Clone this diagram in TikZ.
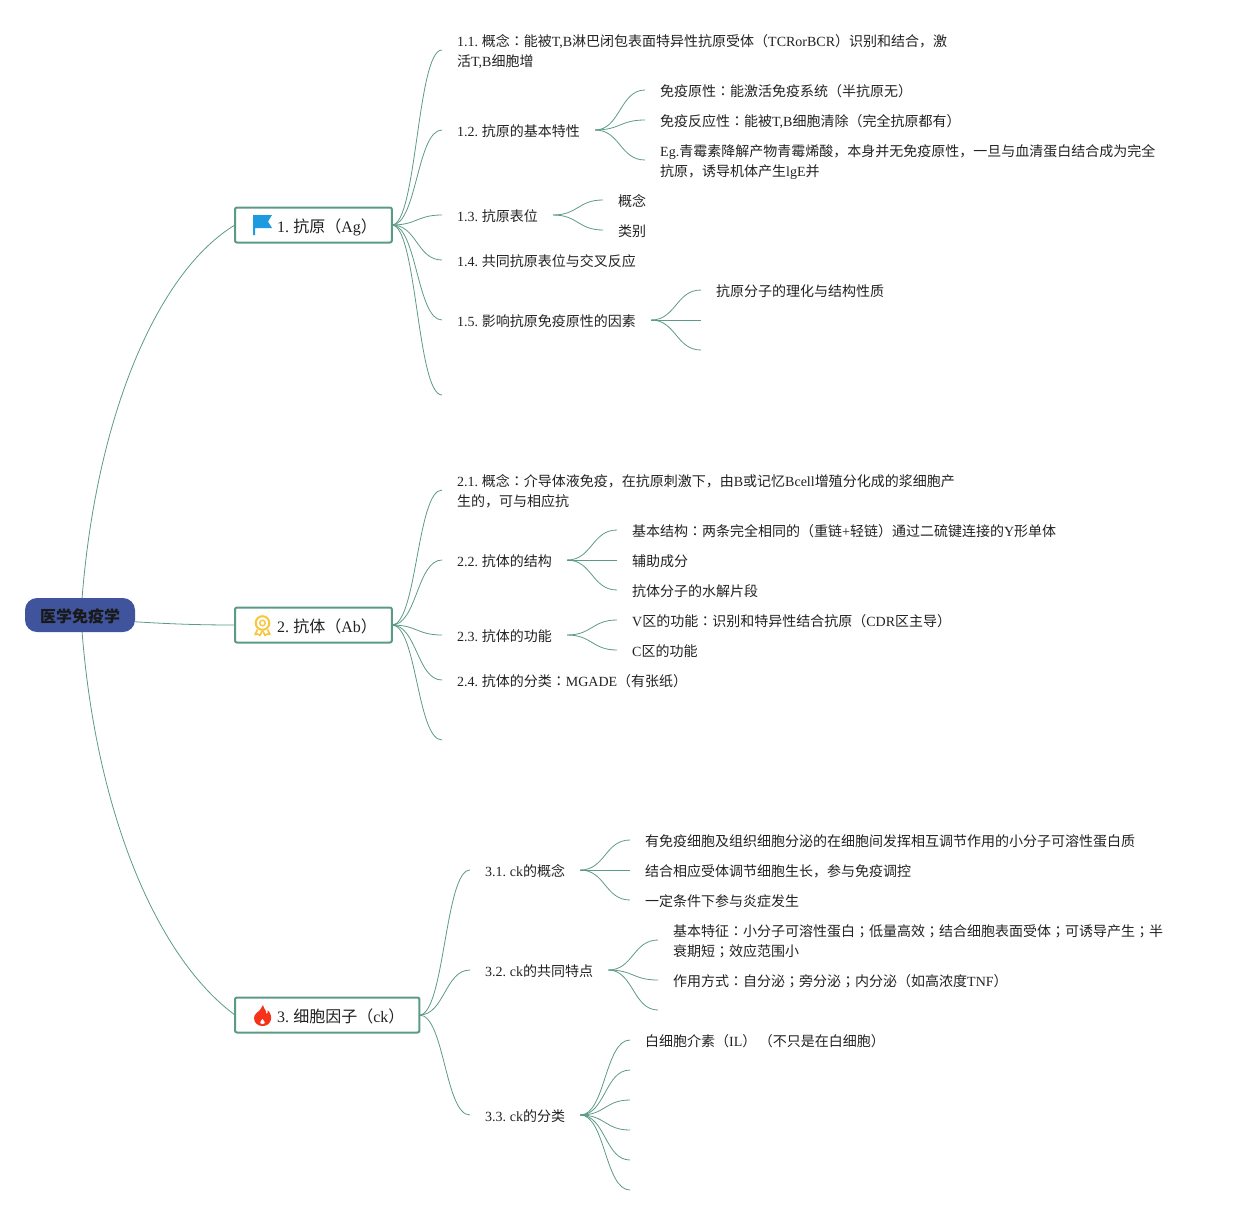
\documentclass[tikz,border=0pt]{standalone}
\usepackage{fontspec}
\usepackage{xcolor}
\usetikzlibrary{calc}
\setmainfont{Liberation Serif}
\newfontfamily\latinfont{Liberation Serif}
\newfontfamily\cjkfont{Noto Sans CJK SC}
\newfontfamily\jpfont{Noto Sans CJK JP}
\newXeTeXintercharclass\cjkclass
\newXeTeXintercharclass\colonclass
\newcount\cjkcode
\cjkcode="4E00
\loop\XeTeXcharclass\cjkcode=\cjkclass\advance\cjkcode by 1\ifnum\cjkcode<"9FFF\repeat
\XeTeXcharclass"FF08=\cjkclass
\XeTeXcharclass"FF09=\cjkclass
\XeTeXcharclass"FF0C=\cjkclass
\XeTeXcharclass"FF1A=\colonclass
\XeTeXcharclass"FF1B=\colonclass
\XeTeXinterchartokenstate=1
\XeTeXinterchartoks 0 \cjkclass={\cjkfont}
\XeTeXinterchartoks 4095 \cjkclass={\cjkfont}
\XeTeXinterchartoks \cjkclass 0={\latinfont}
\XeTeXinterchartoks \cjkclass 4095={\latinfont}
\XeTeXinterchartoks 0 \colonclass={\jpfont}
\XeTeXinterchartoks 4095 \colonclass={\jpfont}
\XeTeXinterchartoks \cjkclass \colonclass={\jpfont}
\XeTeXinterchartoks \colonclass \cjkclass={\cjkfont}
\XeTeXinterchartoks \colonclass 0={\latinfont}
\XeTeXinterchartoks \colonclass 4095={\latinfont}
\definecolor{deepteal}{RGB}{92,154,136}
\definecolor{rootblue}{RGB}{63,84,156}
\definecolor{inkdark}{RGB}{34,34,34}
\definecolor{flagblue}{RGB}{28,155,224}
\definecolor{medalgold}{RGB}{248,198,61}
\definecolor{flamered}{RGB}{245,51,26}
\tikzset{
    rootbox/.style={rectangle,fill=rootblue,rounded corners=12pt,minimum width=110pt,minimum height=34pt,inner sep=0pt,outer sep=0pt,text=black!90,font={\XeTeXinterchartokenstate=0\cjkfont\bfseries\fontsize{16}{20}\selectfont},execute at begin node={\rule[-3pt]{0pt}{20pt}}},
    topic/.style={rectangle,draw=deepteal,line width=2pt,fill=white,rounded corners=2pt,minimum height=35pt,inner xsep=15pt,inner ysep=0pt,outer sep=0pt,anchor=west,text=inkdark,font={\fontsize{16}{20}\selectfont\spaceskip=3pt},execute at begin node={\rule[-3pt]{0pt}{21pt}}},
    leaf/.style={rectangle,anchor=west,inner xsep=15pt,inner ysep=0pt,align=left,text=inkdark,font={\fontsize{14}{20}\selectfont\spaceskip=2.5pt},execute at begin node={\rule[-3pt]{0pt}{18pt}}},
    twoline/.style={leaf,text height=33pt,text depth=0pt},
    conn/.style={draw=deepteal,line width=0.8pt},
}
\newcommand{\branch}[2]{\draw[conn] (#1) .. controls ($(#1)+(25,0)$) and ($(#2)-(25,0)$) .. (#2);}
\begin{document}
\begin{tikzpicture}[x=1pt,y=-1pt]
\useasboundingbox (0,0) rectangle (1233,1215);
\node[rootbox] (root) at (80,615) {医学免疫学};
\node[topic] (ag) at (235,225) {\hspace*{27pt}1. 抗原（Ag）};
\node[topic] (ab) at (235,625) {\hspace*{27pt}2. 抗体（Ab）};
\node[topic] (ck) at (235,1015) {\hspace*{27pt}3. 细胞因子（ck）};

\node[twoline] (a1) at (442,50) {1.1. 概念：能被T,B淋巴闭包表面特异性抗原受体（TCRorBCR）识别和结合，激\\活T,B细胞增};
\node[leaf] (a2) at (442,130) {1.2. 抗原的基本特性};
\node[leaf] (a21) at (645,90) {免疫原性：能激活免疫系统（半抗原无）};
\node[leaf] (a22) at (645,120) {免疫反应性：能被T,B细胞清除（完全抗原都有）};
\node[twoline] (a23) at (645,160) {Eg.青霉素降解产物青霉烯酸，本身并无免疫原性，一旦与血清蛋白结合成为完全\\抗原，诱导机体产生lgE并};
\node[leaf] (a3) at (442,215) {1.3. 抗原表位};
\node[leaf] (a31) at (603,200) {概念};
\node[leaf] (a32) at (603,230) {类别};
\node[leaf] (a4) at (442,260) {1.4. 共同抗原表位与交叉反应};
\node[leaf] (a5) at (442,320) {1.5. 影响抗原免疫原性的因素};
\node[leaf] (a51) at (701,290) {抗原分子的理化与结构性质};
\coordinate (a52) at (701,320);
\coordinate (a53) at (701,350);
\coordinate (a6) at (442,395);

\node[twoline] (b1) at (442,490) {2.1. 概念：介导体液免疫，在抗原刺激下，由B或记忆Bcell增殖分化成的浆细胞产\\生的，可与相应抗};
\node[leaf] (b2) at (442,560) {2.2. 抗体的结构};
\node[leaf] (b21) at (617,530) {基本结构：两条完全相同的（重链+轻链）通过二硫键连接的Y形单体};
\node[leaf] (b22) at (617,560) {辅助成分};
\node[leaf] (b23) at (617,590) {抗体分子的水解片段};
\node[leaf] (b3) at (442,635) {2.3. 抗体的功能};
\node[leaf] (b31) at (617,620) {V区的功能：识别和特异性结合抗原（CDR区主导）};
\node[leaf] (b32) at (617,650) {C区的功能};
\node[leaf] (b4) at (442,680) {2.4. 抗体的分类：MGADE（有张纸）};
\coordinate (b5) at (442,740);

\node[leaf] (c1) at (470,870) {3.1. ck的概念};
\node[leaf] (c11) at (630,840) {有免疫细胞及组织细胞分泌的在细胞间发挥相互调节作用的小分子可溶性蛋白质};
\node[leaf] (c12) at (630,870) {结合相应受体调节细胞生长，参与免疫调控};
\node[leaf] (c13) at (630,900) {一定条件下参与炎症发生};
\node[leaf] (c2) at (470,970) {3.2. ck的共同特点};
\node[twoline] (c21) at (658,940) {基本特征：小分子可溶性蛋白；低量高效；结合细胞表面受体；可诱导产生；半\\衰期短；效应范围小};
\node[leaf] (c22) at (658,980) {作用方式：自分泌；旁分泌；内分泌（如高浓度TNF）};
\coordinate (c23) at (658,1010);
\node[leaf] (c3) at (470,1115) {3.3. ck的分类};
\node[leaf] (c31) at (630,1040) {白细胞介素（IL） （不只是在白细胞）};
\coordinate (c32) at (630,1070);
\coordinate (c33) at (630,1100);
\coordinate (c34) at (630,1130);
\coordinate (c35) at (630,1160);
\coordinate (c36) at (630,1190);

\draw[conn] (root.83) .. controls (97,410) and (160,270) .. (ag.west);
\draw[conn] (root.-7.25) .. controls (170,624) and (200,625) .. (ab.west);
\draw[conn] (root.-83) .. controls (97,820) and (160,960) .. (ck.west);
\foreach \p/\q in {ag.east/a1.west,ag.east/a2.west,ag.east/a3.west,ag.east/a4.west,ag.east/a5.west,ag.east/a6,
    a2.east/a21.west,a2.east/a22.west,a2.east/a23.west,a3.east/a31.west,a3.east/a32.west,
    a5.east/a51.west,a5.east/a52,a5.east/a53,
    ab.east/b1.west,ab.east/b2.west,ab.east/b3.west,ab.east/b4.west,ab.east/b5,
    b2.east/b21.west,b2.east/b22.west,b2.east/b23.west,b3.east/b31.west,b3.east/b32.west,
    ck.east/c1.west,ck.east/c2.west,ck.east/c3.west,
    c1.east/c11.west,c1.east/c12.west,c1.east/c13.west,c2.east/c21.west,c2.east/c22.west,c2.east/c23,
    c3.east/c31.west,c3.east/c32,c3.east/c33,c3.east/c34,c3.east/c35,c3.east/c36}
    {\branch{\p}{\q}}

\fill[flagblue] (253,215) -- (272,215) -- (268,221.5) -- (272,228) -- (255,228) -- (255,235) -- (253,235) -- cycle;

\draw[medalgold,line width=2pt] (262.5,623) circle (6.8);
\draw[medalgold,line width=1.4pt] (262.5,623) circle (2.8);
\draw[medalgold,line width=1.6pt,line join=round] (257.5,629.5) -- (255,634.5) -- (258,634) -- (260,635.5) -- (262,631);
\draw[medalgold,line width=1.6pt,line join=round] (267.5,629.5) -- (270,634.5) -- (267,634) -- (265,635.5) -- (263,631);

\fill[flamered] (263,1005) .. controls (264,1010) and (267,1010) .. (266,1014) .. controls (268,1014) and (268,1012) .. (267.5,1010) .. controls (271,1013) and (272,1018) .. (270.5,1021) .. controls (269,1025) and (265,1026) .. (262.5,1026) .. controls (258,1026) and (254,1023) .. (254,1018) .. controls (254,1014) and (258,1012) .. (260,1010) .. controls (261,1008) and (262,1007) .. (263,1005) -- cycle;
\fill[white] (262.5,1019) .. controls (263,1021) and (265.5,1021) .. (264.8,1023) .. controls (264,1024.5) and (261,1024.5) .. (260.2,1023) .. controls (259.8,1021.5) and (261.5,1020.5) .. (262.5,1019) -- cycle;
\end{tikzpicture}
\end{document}
